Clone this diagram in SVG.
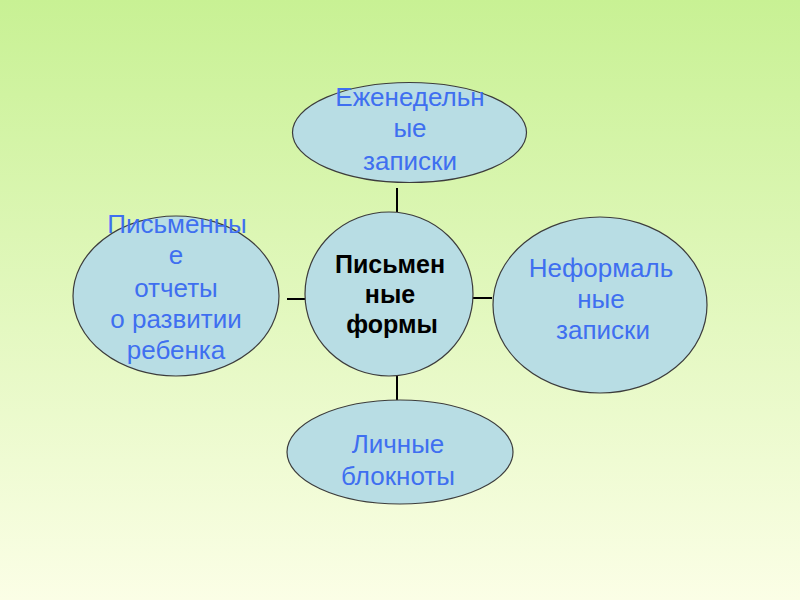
<svg xmlns="http://www.w3.org/2000/svg" width="800" height="600" viewBox="0 0 800 600">
<defs>
<linearGradient id="bg" x1="0" y1="0" x2="0" y2="1">
<stop offset="0" stop-color="#c8f194"/>
<stop offset="1" stop-color="#fbfee6"/>
</linearGradient>
<style>
.node{fill:#b8dde4;stroke:#3c3c3c;stroke-width:1.2}
.t{font-family:"Liberation Sans",Arial,sans-serif;font-size:26px;fill:#3f6ff0;text-anchor:middle}
.c{font-family:"Liberation Sans",Arial,sans-serif;font-size:25px;font-weight:bold;fill:#000;text-anchor:middle}
.edge{stroke:#000;stroke-width:2;fill:none}
</style>
</defs>
<rect width="800" height="600" fill="url(#bg)"/>
<g id="connectors">
<line class="edge" x1="397" y1="188" x2="397" y2="212"/>
<line class="edge" x1="397" y1="376" x2="397" y2="400"/>
<line class="edge" x1="287" y1="299" x2="305" y2="299"/>
<line class="edge" x1="473" y1="298" x2="492" y2="298"/>
</g>
<g id="node-top">
<ellipse class="node" cx="409.5" cy="132.5" rx="117" ry="50"/>
<text class="t" x="410" y="106">Еженедельн</text>
<text class="t" x="410" y="137">ые</text>
<text class="t" x="410" y="170">записки</text>
</g>
<g id="node-center">
<ellipse class="node" cx="389" cy="294" rx="84" ry="82"/>
<text class="c" x="390" y="273">Письмен</text>
<text class="c" x="390" y="303">ные</text>
<text class="c" x="392" y="333">формы</text>
</g>
<g id="node-left">
<ellipse class="node" cx="176" cy="296" rx="103" ry="80"/>
<text class="t" x="177" y="233">Письменны</text>
<text class="t" x="176" y="264">е</text>
<text class="t" x="176" y="297">отчеты</text>
<text class="t" x="176" y="328">о развитии</text>
<text class="t" x="176" y="359">ребенка</text>
</g>
<g id="node-right">
<ellipse class="node" cx="600" cy="305" rx="107" ry="88"/>
<text class="t" x="601" y="277">Неформаль</text>
<text class="t" x="601" y="308">ные</text>
<text class="t" x="603" y="339">записки</text>
</g>
<g id="node-bottom">
<ellipse class="node" cx="400" cy="452" rx="113" ry="52"/>
<text class="t" x="398" y="453">Личные</text>
<text class="t" x="398" y="485">блокноты</text>
</g>
</svg>
